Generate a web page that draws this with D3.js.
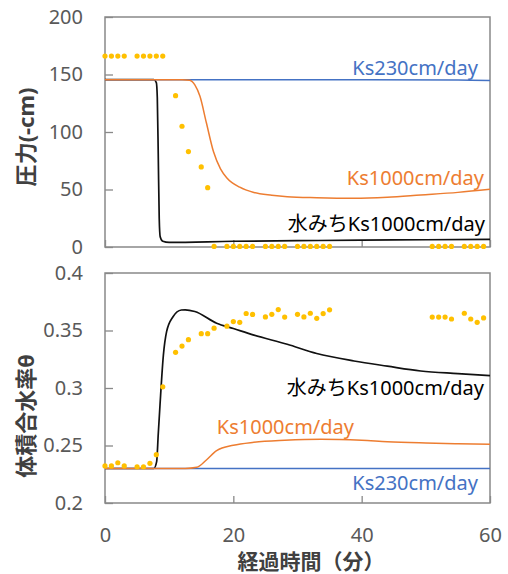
<!DOCTYPE html>
<html>
<head>
<meta charset="utf-8">
<script src="https://cdn.jsdelivr.net/npm/d3@7"></script>
<style>
  body { margin: 0; background: #fff; }
  text { font-family: "Noto Sans", "Noto Sans CJK JP", sans-serif; }
</style>
</head>
<body>
<div id="chart"></div>
<script>
// ---- data ----
const timeTicks = [0, 20, 40, 60]
const pressTicks = [0, 50, 100, 150, 200]
const thetaTicks = [0.2, 0.25, 0.3, 0.35, 0.4]

// observed (dots), minutes
const obsTime = [0, 1, 2, 3, 5, 6, 7, 8, 9, 11, 12, 13, 15, 16, 17, 19, 20, 21, 22, 23,
  25, 26, 27, 28, 30, 31, 32, 33, 34, 35, 51, 52, 53, 54, 56, 57, 58, 59]
const obsPressure = [166, 166, 166, 166, 166, 166, 166, 166, 166, 131.6, 105, 83, 69.6, 51.6,
  0.5, 0.5, 0.5, 0.5, 0.5, 0.5, 0.5, 0.5, 0.5, 0.5, 0.5, 0.5, 0.5, 0.5, 0.5, 0.5,
  0.5, 0.5, 0.5, 0.5, 0.5, 0.5, 0.5, 0.5]
const obsTheta = [0.2322, 0.2322, 0.235, 0.2322, 0.2315, 0.2315, 0.2345, 0.242, 0.301, 0.331,
  0.3365, 0.342, 0.3472, 0.3472, 0.352, 0.3538, 0.3578, 0.3571, 0.3648, 0.364,
  0.3618, 0.3641, 0.3682, 0.3617, 0.3641, 0.3618, 0.365, 0.3606, 0.3647, 0.368,
  0.3617, 0.3617, 0.3617, 0.36, 0.365, 0.36, 0.3571, 0.3609]

// simulated: Ks230cm/day
const ks230PressTime = [0, 20, 40, 55, 60]
const ks230Press = [145.5, 145.5, 145.4, 145.2, 144.8]
const ks230ThetaTime = [0, 60]
const ks230Theta = [0.23, 0.23]

// simulated: Ks1000cm/day
const ks1000PressTime = [0, 12, 13.2, 14, 14.8, 15.8, 16.9, 18, 19, 21, 23.2, 26, 28.4, 33, 38.8, 44, 49.2, 55, 60]
const ks1000Press = [145.5, 145.5, 145, 141, 131, 108, 83, 68, 60, 52, 47.4, 45, 43.7, 42.8, 42.3, 43.2, 45.2, 47.5, 50.2]
const ks1000ThetaTime = [0, 12.5, 14.3, 15.8, 17.4, 20, 23.2, 28, 33.6, 40, 44, 50, 55, 60]
const ks1000Theta = [0.23, 0.23, 0.231, 0.2374, 0.2455, 0.2502, 0.2528, 0.2545, 0.2554, 0.2545, 0.2533, 0.2522, 0.2515, 0.251]

// simulated: 水みち Ks1000cm/day
const mizumichiPressTime = [0, 7.6, 8.0, 8.15, 8.3, 8.45, 8.6, 9.0, 10, 20, 30, 40, 50, 60]
const mizumichiPress = [145.5, 145.5, 143, 130, 80, 25, 9, 5, 4, 5, 5.5, 6, 6.3, 6.7]
const mizumichiThetaTime = [0, 7.6, 8.05, 8.3, 8.57, 9.1, 9.6, 10.6, 11.9, 12.5, 14, 17.4, 20, 23.2, 28.4, 33, 38.8, 44, 49.2, 55, 60]
const mizumichiTheta = [0.23, 0.23, 0.236, 0.26, 0.285, 0.3287, 0.349, 0.362, 0.3678, 0.368, 0.3665, 0.3563, 0.3517, 0.346, 0.338, 0.330, 0.3235, 0.319, 0.3148, 0.3125, 0.3107]

// ---- chart ----
const width = 508
const height = 574
const colBlue = '#4472C4'
const colOrange = '#ED7D31'
const colDot = '#FFC000'
const colFrame = '#898989'
const colTick = '#595959'

const svg = d3.select('#chart').append('svg')
  .attr('width', width)
  .attr('height', height)

const x = d3.scaleLinear().domain([0, 60]).range([105, 490])

function makePanel({ y, yTicks, yFormat, xLabels, lines, obsY, texts, yTitle, yTitleY }) {
  const g = svg.append('g')
  const [y0, y1] = y.range()

  // frame
  g.append('rect')
    .attr('x', x(0)).attr('y', y1)
    .attr('width', x(60) - x(0)).attr('height', y0 - y1)
    .attr('fill', 'none')
    .attr('stroke', colFrame)
    .attr('stroke-width', 1.5)

  // y axis, ticks inward
  const gy = g.append('g')
    .attr('transform', `translate(${x(0)},0)`)
    .call(d3.axisLeft(y).tickValues(yTicks).tickFormat(yFormat)
      .tickSizeInner(-8).tickSizeOuter(0).tickPadding(22))
  gy.select('.domain').remove()

  // x axis, ticks inward
  const gx = g.append('g')
    .attr('transform', `translate(0,${y0})`)
    .call(d3.axisBottom(x).tickValues(timeTicks)
      .tickFormat(xLabels ? d3.format('d') : '')
      .tickSizeInner(-7).tickSizeOuter(0).tickPadding(25))
  gx.select('.domain').remove()

  g.selectAll('.tick line').attr('stroke', colFrame).attr('stroke-width', 1.3)
  g.selectAll('.tick text')
    .attr('fill', colTick)
    .style('font-size', '20px')

  // y title
  g.append('text')
    .attr('transform', `translate(25,${yTitleY}) rotate(-90)`)
    .attr('text-anchor', 'middle')
    .attr('dominant-baseline', 'central')
    .attr('fill', '#404040')
    .style('font-size', '22px')
    .style('font-weight', 'bold')
    .text(yTitle)

  // lines
  lines.forEach(s => {
    const pts = s.t.map((t, i) => [t, s.v[i]])
    g.append('path')
      .datum(pts)
      .attr('fill', 'none')
      .attr('stroke', s.colour)
      .attr('stroke-width', s.w)
      .attr('d', d3.line().x(d => x(d[0])).y(d => y(d[1])).curve(d3.curveMonotoneX))
  })

  // observed dots
  g.selectAll('.obs')
    .data(obsTime.map((t, i) => [t, obsY[i]]))
    .enter()
    .append('circle')
    .attr('class', 'obs')
    .attr('cx', d => x(d[0]))
    .attr('cy', d => y(d[1]))
    .attr('r', 2.6)
    .attr('fill', colDot)

  // series labels
  texts.forEach(t => {
    g.append('text')
      .attr('x', t.x).attr('y', t.y)
      .attr('text-anchor', 'end')
      .attr('fill', t.colour)
      .style('font-size', '20px')
      .text(t.text)
  })
}

makePanel({
  y: d3.scaleLinear().domain([0, 200]).range([247, 17]),
  yTicks: pressTicks,
  yFormat: d3.format('d'),
  xLabels: false,
  yTitle: '圧力(-cm)',
  yTitleY: 137,
  lines: [
    { t: mizumichiPressTime, v: mizumichiPress, colour: '#111', w: 1.7 },
    { t: ks230PressTime, v: ks230Press, colour: colBlue, w: 1.5 },
    { t: ks1000PressTime, v: ks1000Press, colour: colOrange, w: 1.5 }
  ],
  obsY: obsPressure,
  texts: [
    { text: 'Ks230cm/day', x: 478, y: 75, colour: colBlue },
    { text: 'Ks1000cm/day', x: 484, y: 185, colour: colOrange },
    { text: '水みちKs1000cm/day', x: 485, y: 231, colour: '#000' }
  ]
})

makePanel({
  y: d3.scaleLinear().domain([0.2, 0.4]).range([503, 273]),
  yTicks: thetaTicks,
  yFormat: d => String(+d.toFixed(2)),
  xLabels: true,
  yTitle: '体積合水率θ',
  yTitleY: 416,
  lines: [
    { t: mizumichiThetaTime, v: mizumichiTheta, colour: '#111', w: 1.7 },
    { t: ks230ThetaTime, v: ks230Theta, colour: colBlue, w: 1.5 },
    { t: ks1000ThetaTime, v: ks1000Theta, colour: colOrange, w: 1.5 }
  ],
  obsY: obsTheta,
  texts: [
    { text: '水みちKs1000cm/day', x: 484, y: 395, colour: '#000' },
    { text: 'Ks1000cm/day', x: 354, y: 434, colour: colOrange },
    { text: 'Ks230cm/day', x: 478, y: 490, colour: colBlue }
  ]
})

// x title
svg.append('text')
  .attr('x', 311).attr('y', 561)
  .attr('text-anchor', 'middle')
  .attr('dominant-baseline', 'central')
  .attr('fill', '#404040')
  .style('font-size', '21px')
  .style('font-weight', 'bold')
  .text('経過時間（分）')
</script>
</body>
</html>
